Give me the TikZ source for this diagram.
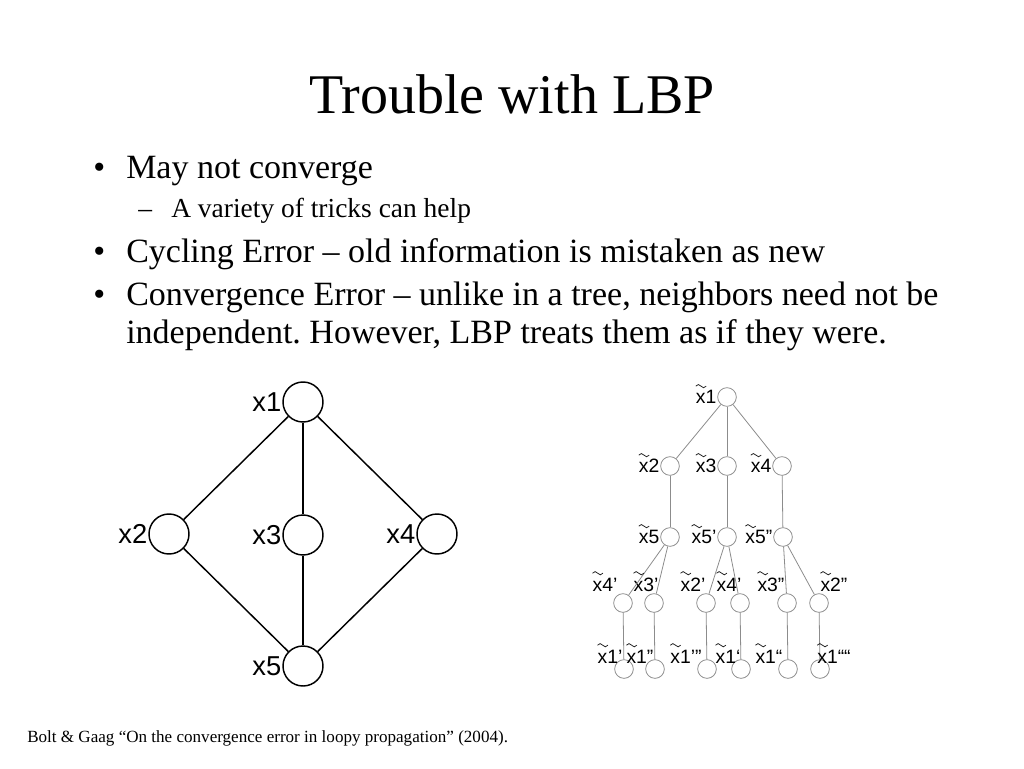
\documentclass[tikz,border=0pt]{standalone}
\usepackage{fontspec}
\setmainfont{Liberation Serif}
\newfontfamily\arialfont{Liberation Sans}
\usepackage{tikz}
\definecolor{treegray}{RGB}{140,140,140}
\frenchspacing

\begin{document}
\begin{tikzpicture}[x=0.75pt,y=-0.75pt,
  vtx/.style={circle,draw=black,line width=1.1pt,minimum size=30pt,inner sep=0pt},
  tvtx/.style={circle,draw=treegray,line width=0.6pt,minimum size=14pt,inner sep=0pt},
  lbl/.style={font=\arialfont\fontsize{20.5}{22}\selectfont,inner sep=0.5pt,text height=14.7pt,text depth=0pt},
  tlbl/.style={font=\arialfont\fontsize{14.5}{16}\selectfont,inner sep=0.5pt,text height=10.4pt,text depth=0pt},
  tilde/.style={line width=0.6pt,draw=black!85},
  edge/.style={line width=1.1pt,draw=black},
  tedge/.style={line width=0.6pt,draw=treegray},
  txt/.style={anchor=base west,inner sep=0pt}]
\useasboundingbox (0,0) rectangle (1024,768);

% title and bullets
\node[anchor=base,inner sep=0pt,font=\fontsize{42}{48}\selectfont] (title) at (512,113) {Trouble with LBP};
\node[txt,font=\fontsize{25.5}{30}\selectfont] (b1) at (93,178) {\textbullet};
\node[txt,font=\fontsize{25.5}{30}\selectfont] (t1) at (126,178) {May not converge};
\node[txt,font=\fontsize{20.6}{24}\selectfont] (d1) at (138,217) {--};
\node[txt,font=\fontsize{20.6}{24}\selectfont] (s1) at (171,217) {A variety of tricks can help};
\node[txt,font=\fontsize{25.5}{30}\selectfont] (b2) at (93,262) {\textbullet};
\node[txt,font=\fontsize{25.5}{30}\selectfont] (t2) at (126,262) {Cycling Error -- old information is mistaken as new};
\node[txt,font=\fontsize{25.5}{30}\selectfont] (b3) at (93,305) {\textbullet};
\node[txt,font=\fontsize{25.5}{30}\selectfont] (t3) at (126,305) {Convergence Error -- unlike in a tree, neighbors need not be};
\node[txt,font=\fontsize{25.5}{30}\selectfont] (t4) at (126,343) {independent. However, LBP treats them as if they were.};

% loopy graph
\node[vtx,label={[lbl]left:x1}] (x1) at (303,402) {};
\node[vtx,label={[lbl]left:x2}] (x2) at (169,534) {};
\node[vtx,label={[lbl]left:x3}] (x3) at (303,535) {};
\node[vtx,label={[lbl]left:x4}] (x4) at (437,534) {};
\node[vtx,label={[lbl]left:x5}] (x5) at (303,666) {};
\foreach \a/\b in {x1/x2,x1/x3,x1/x4,x2/x5,x3/x5,x4/x5}
\draw[edge] (\a) -- (\b);

% unwrapped tree
\node[tvtx,label={[tlbl,name=lu1]left:x1}] (u1) at (727,397) {};
\node[tvtx,label={[tlbl,name=lu2]left:x2}] (u2) at (670,466) {};
\node[tvtx,label={[tlbl,name=lu3]left:x3}] (u3) at (727,466) {};
\node[tvtx,label={[tlbl,name=lu4]left:x4}] (u4) at (782,466) {};
\node[tvtx,label={[tlbl,name=lu5]left:x5}] (u5) at (670,537) {};
\node[tvtx,label={[tlbl,name=lu6]left:x5’}] (u5a) at (727,537) {};
\node[tvtx,label={[tlbl,name=lu7]left:x5”}] (u5b) at (783,537) {};
\foreach \x/\n in {623/1,654/2,706/3,740/4,787/5,819/6}{
\node[tvtx] (p\n) at (\x,603) {};
\node[tvtx] (q\n) at (\x+1,669) {};
\draw[tedge] (p\n) -- (q\n);
}
% labels of the two lower rows
\foreach \x/\s [count=\i] in {605/x4’,646/x3’,693/x2’,729/x4’,771/x3”,834/x2”}
\node[tlbl,anchor=base] (lp\i) at (\x,591) {\s};
\foreach \x/\s [count=\i] in {610/x1’,640/x1”,686/x1’”,728/x1‘,769/x1“,834/x1““}
\node[tlbl,anchor=base] (lq\i) at (\x,663) {\s};
\foreach \a/\b in {u1/u2,u1/u3,u1/u4,u2/u5,u3/u5a,u4/u5b,u5/p1,u5/p2,u5a/p3,u5a/p4,u5b/p5,u5b/p6}
\draw[tedge] (\a) -- (\b);
% tildes over the x
\foreach \n in {lu1,lu2,lu3,lu4,lu5,lu6,lu7,lp1,lp2,lp3,lp4,lp5,lp6,lq1,lq2,lq3,lq4,lq5,lq6}
\draw[tilde] ([shift={(0.8,-3)}]\n.north west) sin ++(2.6,-1.6) cos ++(2.6,1.6) sin ++(2.6,1.6) cos ++(2.6,-1.6);

% reference
\node[txt,font=\fontsize{12.8}{14}\selectfont] (cite) at (27,742) {Bolt \& Gaag “On the convergence error in loopy propagation” (2004).};
\end{tikzpicture}
\end{document}
